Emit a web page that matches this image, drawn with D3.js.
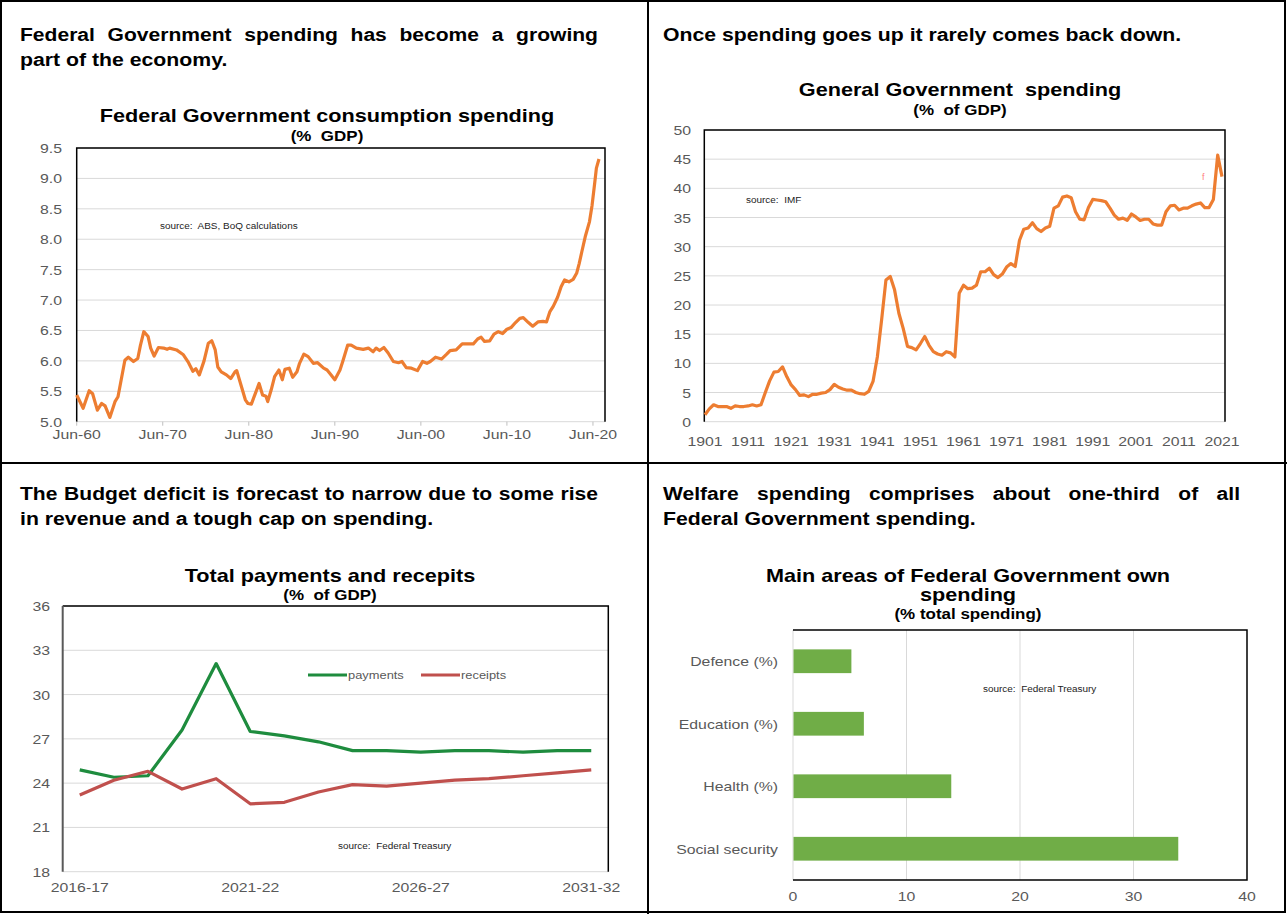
<!DOCTYPE html>
<html>
<head>
<meta charset="utf-8">
<script src="https://cdn.jsdelivr.net/npm/d3@7"></script>
<style>
  body { margin: 0; background: #fff; }
  text { font-family: "Liberation Sans", Arial, sans-serif; white-space: pre; }
</style>
</head>
<body>
<div id="chart"></div>
<script>
// ---- data ----

// Federal Government consumption spending, % GDP (year as decimal, quarterly-ish readings)
const consYears = [1960.5, 1961.25, 1961.95, 1962.35, 1962.9, 1963.4, 1963.8, 1964.35, 1964.95, 1965.3,
  1966.1, 1966.5, 1967.1, 1967.6, 1967.9, 1968.3, 1968.8, 1969.1, 1969.5, 1970.0,
  1970.6, 1971.0, 1971.3, 1972.1, 1972.9, 1973.5, 1974.0, 1974.35, 1974.75, 1975.3,
  1975.8, 1976.2, 1976.6, 1976.9, 1977.3, 1977.9, 1978.4, 1978.9, 1979.1, 1979.6,
  1980.1, 1980.4, 1980.8, 1981.2, 1981.7, 1982.1, 1982.5, 1982.7, 1983.1, 1983.5,
  1984.0, 1984.4, 1984.7, 1985.2, 1985.6, 1986.1, 1986.4, 1986.9, 1987.4, 1988.0,
  1988.5, 1989.2, 1989.6, 1990.0, 1990.5, 1991.1, 1991.4, 1992.0, 1992.4, 1993.0,
  1993.8, 1994.4, 1994.95, 1995.3, 1995.7, 1996.2, 1996.7, 1997.3, 1997.9, 1998.3,
  1998.8, 1999.4, 2000.1, 2000.7, 2001.2, 2001.6, 2002.2, 2002.9, 2003.5, 2003.9,
  2004.6, 2005.3, 2005.8, 2006.6, 2007.1, 2007.5, 2007.9, 2008.5, 2009.0, 2009.5,
  2010.0, 2010.5, 2011.0, 2011.5, 2012.0, 2012.4, 2013.0, 2013.5, 2014.1, 2014.7,
  2015.1, 2015.5, 2015.9, 2016.4, 2016.8, 2017.2, 2017.7, 2018.2, 2018.6, 2018.9,
  2019.2, 2019.6, 2020.1, 2020.4, 2020.7, 2020.9, 2021.2];
const consPct = [5.44, 5.22, 5.51, 5.46, 5.19, 5.30, 5.26, 5.07, 5.33, 5.41,
  6.01, 6.06, 5.99, 6.04, 6.25, 6.48, 6.40, 6.21, 6.08, 6.22,
  6.21, 6.19, 6.21, 6.18, 6.10, 5.97, 5.83, 5.87, 5.77, 6.00,
  6.29, 6.33, 6.18, 5.90, 5.82, 5.77, 5.71, 5.82, 5.84, 5.60,
  5.36, 5.30, 5.29, 5.44, 5.63, 5.44, 5.42, 5.33, 5.52, 5.74,
  5.85, 5.69, 5.86, 5.88, 5.73, 5.82, 5.96, 6.11, 6.07, 5.96,
  5.97, 5.88, 5.85, 5.78, 5.69, 5.85, 5.98, 6.26, 6.26, 6.21,
  6.19, 6.21, 6.15, 6.21, 6.17, 6.22, 6.13, 5.99, 5.97, 5.99,
  5.89, 5.88, 5.84, 5.99, 5.96, 5.99, 6.06, 6.03, 6.11, 6.17,
  6.18, 6.28, 6.28, 6.28, 6.36, 6.39, 6.32, 6.33, 6.44, 6.48,
  6.45, 6.52, 6.55, 6.63, 6.70, 6.71, 6.63, 6.57, 6.64, 6.65,
  6.64, 6.81, 6.90, 7.05, 7.22, 7.33, 7.30, 7.34, 7.44, 7.60,
  7.79, 8.04, 8.29, 8.56, 8.92, 9.17, 9.32];
const consYTicks = [5.0, 5.5, 6.0, 6.5, 7.0, 7.5, 8.0, 8.5, 9.0, 9.5];
const consXTicks = ["Jun-60", "Jun-70", "Jun-80", "Jun-90", "Jun-00", "Jun-10", "Jun-20"];

// General Government spending, % of GDP, 1901-2021
const genYears = d3.range(1901, 2022);
const genPct = [1.2, 2.2, 2.9, 2.6, 2.6, 2.6, 2.3, 2.7, 2.6, 2.6,
  2.7, 2.9, 2.7, 2.9, 5.0, 7.0, 8.5, 8.6, 9.4, 7.7,
  6.3, 5.5, 4.5, 4.6, 4.3, 4.7, 4.7, 4.9, 5.0, 5.5,
  6.4, 5.9, 5.6, 5.4, 5.4, 5.0, 4.8, 4.7, 5.2, 6.9,
  11.1, 17.5, 24.3, 24.9, 22.6, 18.6, 16.0, 12.9, 12.7, 12.3,
  13.4, 14.6, 13.1, 12.0, 11.6, 11.4, 12.0, 11.8, 11.1, 22.0,
  23.4, 22.8, 22.9, 23.4, 25.7, 25.7, 26.3, 25.2, 24.7, 25.3,
  26.5, 27.1, 26.6, 31.1, 33.0, 33.2, 34.1, 33.1, 32.6, 33.2,
  33.5, 36.6, 37.0, 38.5, 38.7, 38.4, 36.0, 34.7, 34.6, 36.7,
  38.1, 38.0, 37.9, 37.7, 36.6, 35.4, 34.7, 34.9, 34.5, 35.6,
  35.1, 34.5, 34.7, 34.7, 33.9, 33.7, 33.7, 36.0, 37.0, 37.1,
  36.3, 36.6, 36.6, 37.0, 37.3, 37.5, 36.7, 36.7, 38.1, 45.7,
  42.0];
const genXTicks = [1901, 1911, 1921, 1931, 1941, 1951, 1961, 1971, 1981, 1991, 2001, 2011, 2021];

// Total payments and receipts, % of GDP
const fiscalYears = ["2016-17", "2017-18", "2018-19", "2019-20", "2020-21", "2021-22", "2022-23", "2023-24",
  "2024-25", "2025-26", "2026-27", "2027-28", "2028-29", "2029-30", "2030-31", "2031-32"];
const payments = [24.9, 24.4, 24.5, 27.6, 32.1, 27.5, 27.2, 26.8, 26.2, 26.2, 26.1, 26.2, 26.2, 26.1, 26.2, 26.2];
const receipts = [23.2, 24.2, 24.8, 23.6, 24.3, 22.6, 22.7, 23.4, 23.9, 23.8, 24.0, 24.2, 24.3, 24.5, 24.7, 24.9];
const fiscalLabels = ["2016-17", "2021-22", "2026-27", "2031-32"];

// Main areas of Federal Government own spending, % total spending
const areas = ["Defence (%)", "Education (%)", "Health (%)", "Social security"];
const areaPct = [5.1, 6.2, 13.9, 33.9];

const W = 1287, H = 914;
const K = 1.17; // reference text is a little wider than Arial at its height
const grey = "#595959", grid = "#d9d9d9", orange = "#ed7d31";

const svg = d3.select("#chart").append("svg")
    .attr("width", W)
    .attr("height", H);

svg.append("rect").attr("width", W).attr("height", H).attr("fill", "#fff");

function stretch(sel, k) {
    sel.each(function () {
        const w = this.getComputedTextLength();
        d3.select(this).attr("textLength", w * k).attr("lengthAdjust", "spacingAndGlyphs");
    });
    return sel;
}

// bold heading line, spread across x0..x1 word by word
function justify(text, x0, x1, y) {
    const words = text.split(" ");
    const nodes = words.map(w => svg.append("text")
        .attr("y", y)
        .attr("font-size", 18)
        .attr("font-weight", "bold")
        .text(w));
    const widths = nodes.map(n => n.node().getComputedTextLength() * K);
    const gap = (x1 - x0 - d3.sum(widths)) / (words.length - 1);
    let x = x0;
    nodes.forEach((n, i) => {
        n.attr("x", x).attr("textLength", widths[i]).attr("lengthAdjust", "spacingAndGlyphs");
        x += widths[i] + gap;
    });
}

function heading(text, x, y) {
    stretch(svg.append("text").attr("x", x).attr("y", y)
        .attr("font-size", 18).attr("font-weight", "bold").text(text), 1.18);
}

function title(lines, cx) {
    lines.forEach(l => {
        stretch(svg.append("text").attr("x", cx).attr("y", l.y)
            .attr("text-anchor", "middle")
            .attr("font-size", l.size).attr("font-weight", "bold")
            .text(l.text), K);
    });
}

function note(text, x, y) {
    stretch(svg.append("text").attr("x", x).attr("y", y)
        .attr("font-size", 8.5).attr("fill", "#222").text(text), K);
}

function tickText(sel) {
    return stretch(sel.attr("font-size", 13.5).attr("fill", grey), K);
}

// ---- panel frame ----
const frame = svg.append("g").attr("stroke", "#000").attr("stroke-width", 2);
frame.append("rect").attr("x", 1).attr("y", 1).attr("width", W - 3).attr("height", H - 3).attr("fill", "none");
frame.append("line").attr("x1", 648).attr("x2", 648).attr("y1", 0).attr("y2", H);
frame.append("line").attr("x1", 0).attr("x2", W).attr("y1", 463).attr("y2", 463);

// ---- headings ----
justify("Federal Government spending has become a growing", 20, 598, 41);
heading("part of the economy.", 20, 66);
heading("Once spending goes up it rarely comes back down.", 663, 41);
justify("The Budget deficit is forecast to narrow due to some rise", 20, 598, 500);
heading("in revenue and a tough cap on spending.", 20, 525);
justify("Welfare spending comprises about one-third of all", 663, 1240, 500);
heading("Federal Government spending.", 663, 525);

// ---- top left: consumption spending ----
{
    const x = d3.scaleLinear().domain([1960.5, 2021.9]).range([76.7, 605]);
    const y = d3.scaleLinear().domain([5, 9.5]).range([421.7, 148]);
    const g = svg.append("g");

    g.selectAll(".grid").data(consYTicks).join("line")
        .attr("x1", x.range()[0]).attr("x2", x.range()[1])
        .attr("y1", d => y(d)).attr("y2", d => y(d))
        .attr("stroke", grid).attr("stroke-width", 1);

    g.append("path")
        .attr("d", `M${x.range()[0]},${y(5)}V${y(9.5)}H${x.range()[1]}V${y(5)}`)
        .attr("fill", "none").attr("stroke", "#000").attr("stroke-width", 1.5);

    const tickYears = consXTicks.map((t, i) => 1960.5 + 10 * i);
    g.selectAll(".xt").data(tickYears).join("line")
        .attr("x1", d => x(d)).attr("x2", d => x(d))
        .attr("y1", y(5)).attr("y2", y(5) + 4)
        .attr("stroke", "#bfbfbf");

    tickText(g.selectAll(".xl").data(consXTicks).join("text")
        .attr("x", (d, i) => x(tickYears[i])).attr("y", 439)
        .attr("text-anchor", "middle").text(d => d));

    tickText(g.selectAll(".yl").data(consYTicks).join("text")
        .attr("x", 62).attr("y", d => y(d) + 5)
        .attr("text-anchor", "end").text(d => d3.format(".1f")(d)));

    const line = d3.line().x((d, i) => x(consYears[i])).y(d => y(d));
    g.append("path").datum(consPct)
        .attr("d", line)
        .attr("fill", "none").attr("stroke", orange)
        .attr("stroke-width", 3.2).attr("stroke-linejoin", "round");

    title([
        { text: "Federal Government consumption spending", y: 122, size: 18.5 },
        { text: "(%  GDP)", y: 141, size: 14.5 }
    ], 327);
    note("source:  ABS, BoQ calculations", 160, 229);
}

// ---- top right: general government spending ----
{
    const x = d3.scaleLinear().domain([1901, 2021]).range([705, 1222]);
    const y = d3.scaleLinear().domain([0, 50]).range([421.7, 130]);
    const left = 704.3, right = 1225;
    const g = svg.append("g");

    g.selectAll(".grid").data(d3.range(0, 51, 5)).join("line")
        .attr("x1", left).attr("x2", right)
        .attr("y1", d => y(d)).attr("y2", d => y(d))
        .attr("stroke", grid).attr("stroke-width", 1);

    g.append("path")
        .attr("d", `M${left},${y(0)}V${y(50)}H${right}V${y(0)}`)
        .attr("fill", "none").attr("stroke", "#000").attr("stroke-width", 1.5);

    tickText(g.selectAll(".xl").data(genXTicks).join("text")
        .attr("x", d => x(d)).attr("y", 446)
        .attr("text-anchor", "middle").text(d => d));

    tickText(g.selectAll(".yl").data(d3.range(0, 51, 5)).join("text")
        .attr("x", 691).attr("y", d => y(d) + 5)
        .attr("text-anchor", "end").text(d => d));

    const line = d3.line().x((d, i) => x(genYears[i])).y(d => y(d));
    g.append("path").datum(genPct)
        .attr("d", line)
        .attr("fill", "none").attr("stroke", orange)
        .attr("stroke-width", 3.2).attr("stroke-linejoin", "round");

    g.append("text").attr("x", 1202).attr("y", 180)
        .attr("font-size", 9).attr("fill", "#ff8080").text("f");

    title([
        { text: "General Government  spending", y: 96, size: 18.5 },
        { text: "(%  of GDP)", y: 115, size: 14.5 }
    ], 960);
    note("source:  IMF", 746, 203);
}

// ---- bottom left: payments and receipts ----
{
    const x = d3.scalePoint().domain(fiscalYears).range([62.7, 608.3]).padding(0.5);
    const y = d3.scaleLinear().domain([18, 36]).range([871.7, 606]);
    const left = 62.7, right = 608.3;
    const g = svg.append("g");

    g.selectAll(".grid").data(d3.range(18, 37, 3)).join("line")
        .attr("x1", left).attr("x2", right)
        .attr("y1", d => y(d)).attr("y2", d => y(d))
        .attr("stroke", grid).attr("stroke-width", 1);

    g.append("path")
        .attr("d", `M${left},${y(36)}H${right}V${y(18)}`)
        .attr("fill", "none").attr("stroke", "#000").attr("stroke-width", 1.5);
    g.append("line")
        .attr("x1", left).attr("x2", left).attr("y1", y(36)).attr("y2", y(18))
        .attr("stroke", "#595959").attr("stroke-width", 2);

    tickText(g.selectAll(".xl").data(fiscalLabels).join("text")
        .attr("x", d => x(d)).attr("y", 892)
        .attr("text-anchor", "middle").text(d => d));

    tickText(g.selectAll(".yl").data(d3.range(18, 37, 3)).join("text")
        .attr("x", 50).attr("y", d => y(d) + 5)
        .attr("text-anchor", "end").text(d => d));

    const series = [
        { name: "payments", values: payments, color: "#1e8c3e", lx: 308 },
        { name: "receipts", values: receipts, color: "#c0504d", lx: 421 }
    ];
    const line = d3.line().x((d, i) => x(fiscalYears[i])).y(d => y(d));
    series.forEach(s => {
        g.append("path").datum(s.values)
            .attr("d", line)
            .attr("fill", "none").attr("stroke", s.color)
            .attr("stroke-width", 3.2).attr("stroke-linejoin", "round");
        g.append("line")
            .attr("x1", s.lx).attr("x2", s.lx + 39).attr("y1", 675).attr("y2", 675)
            .attr("stroke", s.color).attr("stroke-width", 3);
        stretch(g.append("text").attr("x", s.lx + 40).attr("y", 679)
            .attr("font-size", 11).attr("fill", grey).text(s.name), K);
    });

    title([
        { text: "Total payments and recepits", y: 582, size: 18.5 },
        { text: "(%  of GDP)", y: 600, size: 14.5 }
    ], 330);
    note("source:  Federal Treasury", 338, 849);
}

// ---- bottom right: main areas of spending ----
{
    const x = d3.scaleLinear().domain([0, 40]).range([793, 1247]);
    const y = d3.scaleBand().domain(areas).range([630, 880]).paddingInner(0.62).paddingOuter(0.31);
    const g = svg.append("g");

    g.selectAll(".grid").data([0, 10, 20, 30]).join("line")
        .attr("x1", d => x(d)).attr("x2", d => x(d))
        .attr("y1", 630).attr("y2", 880)
        .attr("stroke", grid).attr("stroke-width", 1);

    g.append("path")
        .attr("d", `M${x(0)},630H${x(40)}V880H${x(0)}`)
        .attr("fill", "none").attr("stroke", "#000").attr("stroke-width", 1.5);

    g.selectAll(".bar").data(areaPct).join("rect")
        .attr("x", x(0) + 0.5)
        .attr("y", (d, i) => y(areas[i]))
        .attr("width", d => x(d) - x(0))
        .attr("height", y.bandwidth())
        .attr("fill", "#70ad47");

    tickText(g.selectAll(".xl").data([0, 10, 20, 30, 40]).join("text")
        .attr("x", d => x(d)).attr("y", 901)
        .attr("text-anchor", "middle").text(d => d));

    tickText(g.selectAll(".yl").data(areas).join("text")
        .attr("x", 778).attr("y", d => y(d) + y.bandwidth() / 2 + 5)
        .attr("text-anchor", "end").text(d => d));

    title([
        { text: "Main areas of Federal Government own", y: 582, size: 18.5 },
        { text: "spending", y: 601, size: 18.5 },
        { text: "(% total spending)", y: 619, size: 14.5 }
    ], 968);
    note("source:  Federal Treasury", 983, 692);
}
</script>
</body>
</html>
